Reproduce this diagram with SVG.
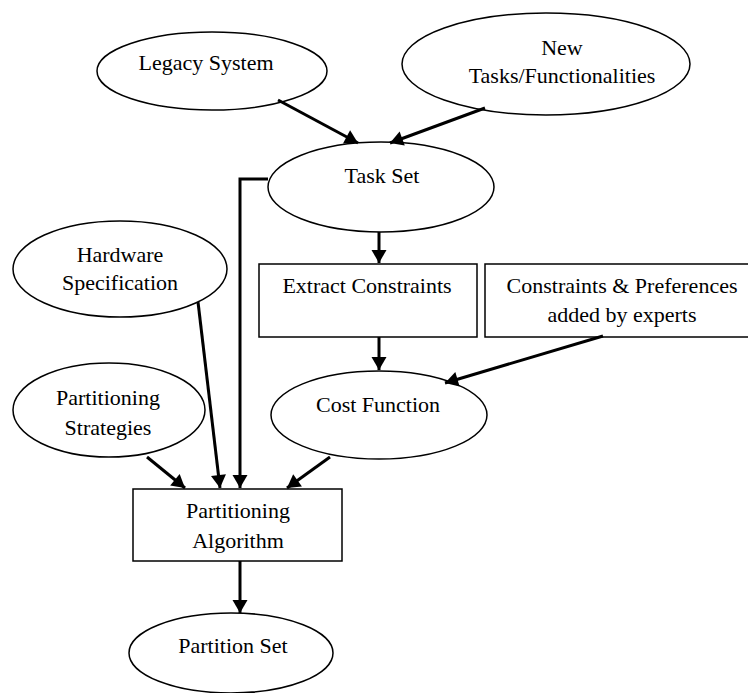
<svg xmlns="http://www.w3.org/2000/svg" width="748" height="693" viewBox="0 0 748 693">
<style>
.n{fill:#fff;stroke:#000;stroke-width:1.5}
.t{font-family:"Liberation Serif","Times New Roman",serif;font-size:22px;fill:#000;text-anchor:middle}
.c{fill:none;stroke:#000;stroke-width:3}
</style>
<defs>
<marker id="ah" markerUnits="userSpaceOnUse" markerWidth="18" markerHeight="18" viewBox="0 0 18 18" refX="15" refY="9" orient="auto">
<path d="M2,1.5 L15,9 L2,16.5 Z" fill="#000"/>
</marker>
</defs>
<rect width="748" height="693" fill="#fff"/>
<g id="legacy"><ellipse class="n" cx="212" cy="71" rx="115" ry="39"/><text class="t" x="206" y="70">Legacy System</text></g>
<g id="newtasks"><ellipse class="n" cx="546" cy="64" rx="144" ry="51"/><text class="t" x="562" y="55">New</text><text class="t" x="562" y="83">Tasks/Functionalities</text></g>
<g id="taskset"><ellipse class="n" cx="381" cy="187" rx="113" ry="45"/><text class="t" x="382" y="183">Task Set</text></g>
<g id="hardware"><ellipse class="n" cx="120" cy="269" rx="107" ry="48"/><text class="t" x="120" y="262">Hardware</text><text class="t" x="120" y="290">Specification</text></g>
<g id="extract"><rect class="n" x="259" y="264" width="218" height="73"/><text class="t" x="367" y="293">Extract Constraints</text></g>
<g id="prefs"><rect class="n" x="485" y="264" width="275" height="73"/><text class="t" x="622" y="293">Constraints &amp; Preferences</text><text class="t" x="622" y="322">added by experts</text></g>
<g id="strategies"><ellipse class="n" cx="109" cy="410" rx="96" ry="47"/><text class="t" x="108" y="405">Partitioning</text><text class="t" x="108" y="435">Strategies</text></g>
<g id="cost"><ellipse class="n" cx="379" cy="415" rx="108" ry="44"/><text class="t" x="378" y="412">Cost Function</text></g>
<g id="algorithm"><rect class="n" x="133" y="489" width="209" height="72"/><text class="t" x="238" y="518">Partitioning</text><text class="t" x="238" y="548">Algorithm</text></g>
<g id="partitionset"><ellipse class="n" cx="231" cy="653" rx="102" ry="40"/><text class="t" x="233" y="653">Partition Set</text></g>
<g id="connectors">
<line class="c" x1="278" y1="100" x2="358" y2="143" marker-end="url(#ah)"/>
<line class="c" x1="485" y1="108" x2="390" y2="143" marker-end="url(#ah)"/>
<line class="c" x1="379" y1="232" x2="379" y2="263" marker-end="url(#ah)"/>
<polyline class="c" points="268,179 240,179 240,488" marker-end="url(#ah)"/>
<line class="c" x1="198" y1="302" x2="220" y2="488" marker-end="url(#ah)"/>
<line class="c" x1="379" y1="337" x2="379" y2="370" marker-end="url(#ah)"/>
<line class="c" x1="603" y1="336" x2="445" y2="383" marker-end="url(#ah)"/>
<line class="c" x1="147" y1="457" x2="185" y2="488" marker-end="url(#ah)"/>
<line class="c" x1="330" y1="457" x2="287" y2="488" marker-end="url(#ah)"/>
<line class="c" x1="240" y1="561" x2="240" y2="613" marker-end="url(#ah)"/>
</g>
</svg>
